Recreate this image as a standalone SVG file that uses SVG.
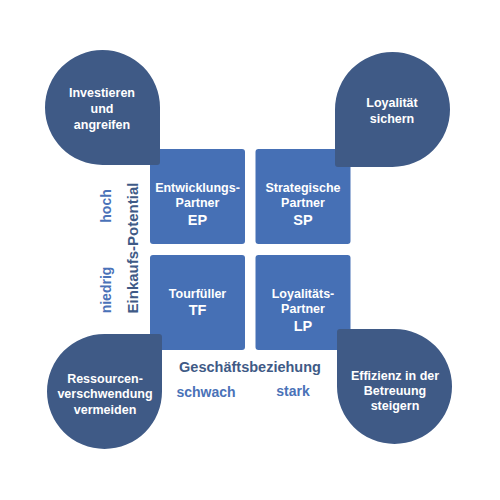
<svg xmlns="http://www.w3.org/2000/svg" width="500" height="500" viewBox="0 0 500 500">
<style>
.sq{fill:#4670b5}
.td{fill:#3f5a86}
.w{fill:#ffffff;font-family:"Liberation Sans",Arial,sans-serif;font-weight:bold;text-anchor:middle}
.t{font-size:12.5px}
.c{font-size:14.5px}
.lb{fill:#4a72b8;font-family:"Liberation Sans",Arial,sans-serif;font-weight:bold;text-anchor:middle;font-size:14px}
.db{fill:#3f5a86;font-family:"Liberation Sans",Arial,sans-serif;font-weight:bold;text-anchor:middle;font-size:14.5px}
</style>
<rect width="500" height="500" fill="#ffffff"/>
<g id="connectors"></g>
<g id="EP">
<rect class="sq" x="150" y="149" width="95" height="95" rx="3"/>
<text class="w t" x="197.5" y="192">Entwicklungs-</text>
<text class="w t" x="197.5" y="207">Partner</text>
<text class="w c" x="197.5" y="225">EP</text>
</g>
<g id="SP">
<rect class="sq" x="255.5" y="149" width="95" height="95" rx="3"/>
<text class="w t" x="303" y="192">Strategische</text>
<text class="w t" x="303" y="207">Partner</text>
<text class="w c" x="303" y="225">SP</text>
</g>
<g id="TF">
<rect class="sq" x="150" y="255" width="95" height="95" rx="3"/>
<text class="w t" x="197.5" y="298">Tourfüller</text>
<text class="w c" x="197.5" y="315">TF</text>
</g>
<g id="LP">
<rect class="sq" x="255.5" y="255" width="95" height="95" rx="3"/>
<text class="w t" x="303" y="298">Loyalitäts-</text>
<text class="w t" x="303" y="313">Partner</text>
<text class="w c" x="303" y="331">LP</text>
</g>
<g id="investieren">
<path class="td" d="M160 107.5 V162 Q160 165 157 165 H102.5 A57.5 57.5 0 0 1 45 107.5 A57.5 57.5 0 0 1 102.5 50 A57.5 57.5 0 0 1 160 107.5 Z"/>
<text class="w t" x="102" y="97">Investieren</text>
<text class="w t" x="102" y="113">und</text>
<text class="w t" x="102" y="129">angreifen</text>
</g>
<g id="loyalitaet">
<path class="td" d="M335 109.5 V164 Q335 167 338 167 H392.5 A57.5 57.5 0 0 0 450 109.5 A57.5 57.5 0 0 0 392.5 52 A57.5 57.5 0 0 0 335 109.5 Z"/>
<text class="w t" x="392" y="107">Loyalität</text>
<text class="w t" x="392" y="123">sichern</text>
</g>
<g id="ressourcen">
<path class="td" d="M162 391.5 V337 Q162 334 159 334 H104.5 A57.5 57.5 0 0 0 47 391.5 A57.5 57.5 0 0 0 104.5 449 A57.5 57.5 0 0 0 162 391.5 Z"/>
<text class="w t" x="105" y="383">Ressourcen-</text>
<text class="w t" x="105" y="398">verschwendung</text>
<text class="w t" x="105" y="414">vermeiden</text>
</g>
<g id="effizienz">
<path class="td" d="M337 386.5 V332 Q337 329 340 329 H394.5 A57.5 57.5 0 0 1 452 386.5 A57.5 57.5 0 0 1 394.5 444 A57.5 57.5 0 0 1 337 386.5 Z"/>
<text class="w t" x="395" y="380">Effizienz in der</text>
<text class="w t" x="395" y="395">Betreuung</text>
<text class="w t" x="395" y="410">steigern</text>
</g>
<g id="axes">
<text class="lb" transform="translate(111 206) rotate(-90)">hoch</text>
<text class="lb" transform="translate(111 290) rotate(-90)">niedrig</text>
<text class="db" style="font-size:15px" transform="translate(138 248) rotate(-90)">Einkaufs-Potential</text>
<text class="db" x="250" y="372">Geschäftsbeziehung</text>
<text class="lb" x="206" y="397">schwach</text>
<text class="lb" x="293" y="396">stark</text>
</g>
</svg>
